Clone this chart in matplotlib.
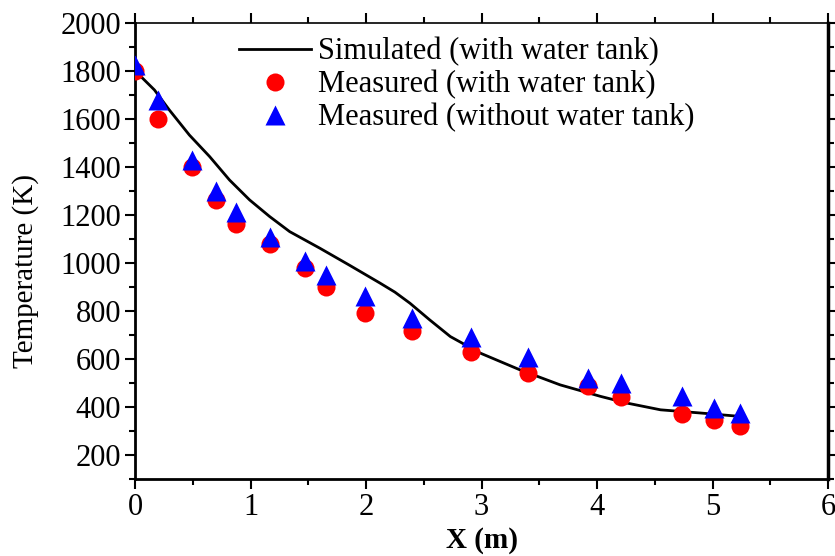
import numpy as np
import matplotlib
matplotlib.use("Agg")
import matplotlib.pyplot as plt

plt.rcParams['font.family'] = ['Liberation Serif', 'DejaVu Serif']

# simulated curve (with water tank)
sim_x = [0, 0.168, 0.298, 0.471, 0.645, 0.818, 0.992, 1.165, 1.339, 1.6,
         1.85, 2.12, 2.25, 2.38, 2.55, 2.73, 2.99, 3.33, 3.68, 4.03, 4.26,
         4.55, 4.89, 5.18, 5.25]
sim_y = [1800, 1720, 1636, 1532, 1443, 1345, 1262, 1193, 1130, 1061,
         992, 916, 878, 832, 763, 693, 624, 555, 492, 444, 416,
         388, 375, 363, 360]

# measured points
meas_x = [0, 0.2, 0.49, 0.7, 0.876, 1.17, 1.47, 1.657, 1.995, 2.4, 2.91,
          3.4, 3.925, 4.21, 4.735, 5.01, 5.24]
with_tank = [1800, 1600, 1400, 1260, 1160, 1080, 978, 900, 790, 715, 630,
             540, 488, 440, 370, 345, 320]
without_tank = [1825, 1680, 1428, 1298, 1210, 1108, 1008, 950, 860, 770, 690,
                608, 520, 500, 445, 395, 375]

fig = plt.figure(figsize=(8.35, 5.56), dpi=100)
ax = fig.add_axes([0.1617, 0.1385, 0.83, 0.8207])

ax.plot(sim_x, sim_y, color='black', lw=2, label='Simulated (with water tank)',
        zorder=2, solid_joinstyle='round')
ax.plot(meas_x, with_tank, 'o', color='red', ms=13, mec='none',
        label='Measured (with water tank)', zorder=3)
ax.plot(meas_x, without_tank, '^', color='blue', ms=14, mec='none',
        label='Measured (without water tank)', zorder=4)

ax.set_xlim(0, 6)
ax.set_ylim(100, 2000)
ax.set_xticks(np.arange(0, 7, 1))
ax.set_xticks(np.arange(0.5, 6, 1), minor=True)
ax.set_yticks(np.arange(200, 2001, 200))
ax.set_yticks(np.arange(100, 2000, 200), minor=True)

ax.tick_params(axis='both', which='major', labelsize=22, width=1.5, length=7,
               direction='out', pad=3)
ax.tick_params(axis='both', which='minor', width=1.5, length=4, direction='out')
ax.tick_params(top=True, right=True, which='both', labeltop=False, labelright=False)

for side in ['left', 'bottom']:
    ax.spines[side].set_linewidth(2)
ax.spines['top'].set_linewidth(1.2)
ax.spines['right'].set_linewidth(2.5)

ax.set_xlabel('X (m)', fontsize=21, fontweight='bold', labelpad=4)
ax.set_ylabel('Temperature (K)', fontsize=21)
ax.yaxis.set_label_coords(-0.139, 0.456)

ax.legend(loc='upper left', bbox_to_anchor=(0.133, 0.995), frameon=False,
          fontsize=22, handlelength=2.35, handletextpad=0.23, labelspacing=0.12,
          borderaxespad=0)

fig.savefig('out.png', dpi=100)
